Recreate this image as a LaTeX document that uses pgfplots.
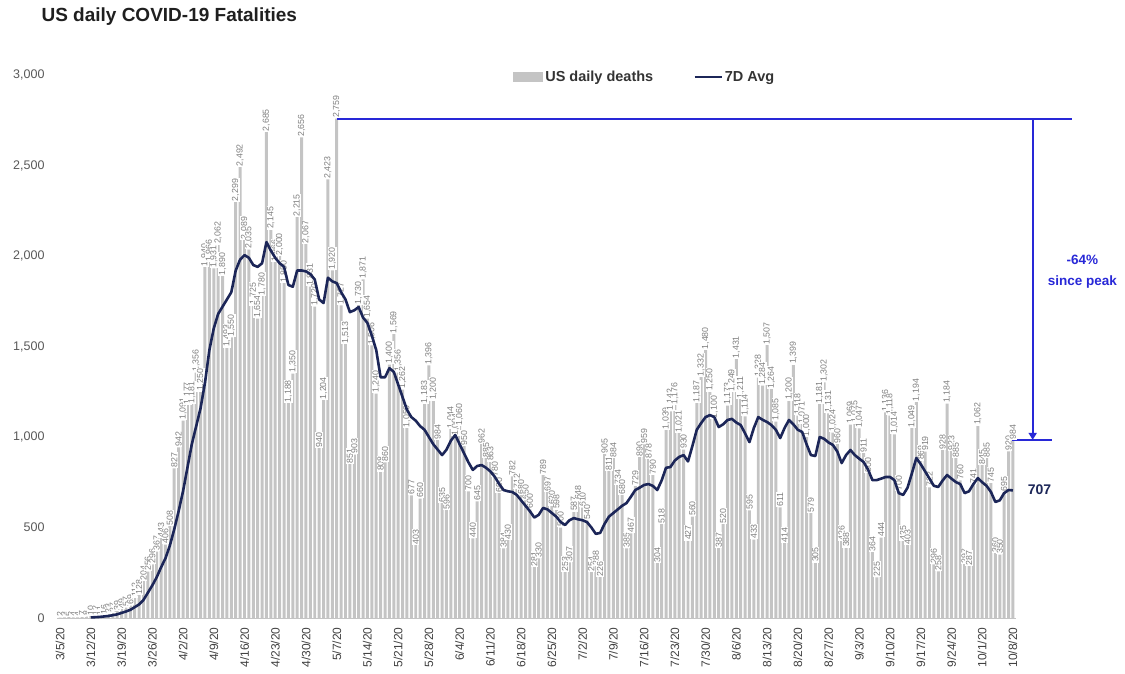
\documentclass[border=0pt]{standalone}
\usepackage{fontspec}
\setmainfont{Liberation Sans}
\usepackage{pgfplots}
\usepackage{pgfplotstable}
\pgfplotsset{compat=1.18}
\usetikzlibrary{arrows.meta}
\definecolor{barcol}{RGB}{196,196,196}
\definecolor{navy}{RGB}{28,38,88}
\definecolor{annblue}{RGB}{40,40,215}
\definecolor{ticktxt}{RGB}{89,89,89}

\pgfplotstableread{
d v
0 2
1 3
2 5
3 4
4 4
5 7
6 8
7 10
8 12
9 11
10 16
11 23
12 27
13 39
14 49
15 57
16 69
17 112
18 128
19 204
20 256
21 296
22 367
23 443
24 406
25 508
26 827
27 942
28 1091
29 1177
30 1181
31 1356
32 1250
33 1940
34 1966
35 1931
36 2062
37 1890
38 1493
39 1550
40 2299
41 2492
42 2089
43 2035
44 1725
45 1654
46 1780
47 2685
48 2145
49 1966
50 2000
51 1850
52 1188
53 1350
54 2215
55 2656
56 2067
57 1831
58 1720
59 940
60 1204
61 2423
62 1920
63 2759
64 1727
65 1513
66 851
67 903
68 1730
69 1871
70 1654
71 1506
72 1240
73 808
74 860
75 1400
76 1569
77 1356
78 1262
79 1050
80 677
81 403
82 660
83 1183
84 1396
85 1200
86 984
87 635
88 596
89 1044
90 1004
91 1060
92 950
93 700
94 440
95 645
96 962
97 885
98 863
99 780
100 690
101 384
102 430
103 782
104 712
105 680
106 650
107 600
108 281
109 330
110 789
111 697
112 620
113 598
114 500
115 253
116 307
117 587
118 648
119 610
120 540
121 254
122 288
123 226
124 905
125 811
126 884
127 734
128 680
129 385
130 467
131 729
132 890
133 959
134 878
135 790
136 304
137 518
138 1039
139 1142
140 1176
141 1021
142 930
143 427
144 560
145 1187
146 1332
147 1480
148 1250
149 1100
150 387
151 520
152 1173
153 1249
154 1431
155 1211
156 1114
157 595
158 433
159 1328
160 1284
161 1507
162 1264
163 1085
164 611
165 414
166 1200
167 1399
168 1118
169 1071
170 1000
171 579
172 305
173 1181
174 1302
175 1131
176 1024
177 960
178 426
179 388
180 1069
181 1075
182 1047
183 911
184 800
185 364
186 225
187 444
188 1136
189 1118
190 1014
191 700
192 425
193 403
194 1049
195 1194
196 869
197 919
198 722
199 296
200 258
201 928
202 1184
203 923
204 885
205 760
206 297
207 287
208 741
209 1062
210 845
211 885
212 745
213 360
214 350
215 695
216 920
217 984
}\deaths

\pgfplotstableread{
d a
7 3
9 6
11 11
13 20
14 28
15 36
16 45
17 60
18 75
19 100
20 140
21 180
22 225
23 280
24 330
25 400
26 490
27 590
28 700
29 830
30 960
31 1060
32 1160
33 1300
34 1480
35 1600
36 1680
37 1720
38 1760
39 1800
40 1920
41 1980
42 2005
43 1990
44 1950
45 1940
46 1960
47 2077
48 2030
49 1990
50 1960
51 1940
52 1840
53 1830
54 1920
55 1920
56 1915
57 1900
58 1870
59 1760
60 1740
61 1880
62 1860
63 1850
64 1800
65 1760
66 1690
67 1700
68 1718
69 1660
70 1630
71 1560
72 1480
73 1330
74 1330
75 1380
76 1360
77 1290
78 1220
79 1150
80 1110
81 1090
82 1060
83 1040
84 1000
85 960
86 930
87 900
88 930
89 980
90 1011
91 960
92 910
93 860
94 818
95 840
96 845
97 830
98 810
99 780
100 740
101 707
102 700
103 696
104 680
105 650
106 620
107 590
108 555
109 570
110 608
111 600
112 580
113 560
114 530
115 514
116 540
117 552
118 545
119 540
120 530
121 500
122 465
123 470
124 520
125 560
126 580
127 600
128 620
129 635
130 670
131 707
132 720
133 735
134 740
135 730
136 707
137 760
138 830
139 834
140 870
141 890
142 900
143 865
144 950
145 1040
146 1077
147 1110
148 1121
149 1110
150 1055
151 1070
152 1094
153 1100
154 1080
155 1066
156 1020
157 972
158 1050
159 1110
160 1095
161 1083
162 1066
163 1040
164 994
165 1050
166 1094
167 1070
168 1040
169 1028
170 960
171 900
172 895
173 1000
174 990
175 970
176 956
177 920
178 856
179 900
180 928
181 900
182 880
183 862
184 820
185 762
186 762
187 770
188 779
189 779
190 762
191 690
192 680
193 720
194 800
195 884
196 850
197 810
198 770
199 730
200 724
201 760
202 790
203 770
204 751
205 740
206 690
207 700
208 740
209 773
210 750
211 730
212 696
213 641
214 650
215 690
216 707
217 705
}\avg

\begin{document}
\begin{tikzpicture}
\path (0,0) rectangle (1125pt,673pt);
\node[anchor=west, font=\fontsize{19}{22}\selectfont\bfseries, text=black!88] at (38pt,656pt) {US daily COVID-19 Fatalities};
\begin{axis}[
  set layers,
  at={(57pt,55pt)}, anchor=south west,
  scale only axis, width=959pt, height=543pt,
  xmin=-0.7, xmax=217.7, ymin=0, ymax=3000,
  clip=false,
  axis lines*=left,
  x axis line style={draw=barcol, line width=1pt},
  y axis line style={draw=none},
  major tick length=0pt,
  ytick={0,500,...,3000},
  xtick={0,7,...,217},
  xticklabels={3/5/20,3/12/20,3/19/20,3/26/20,4/2/20,4/9/20,4/16/20,4/23/20,4/30/20,5/7/20,5/14/20,5/21/20,5/28/20,6/4/20,6/11/20,6/18/20,6/25/20,7/2/20,7/9/20,7/16/20,7/23/20,7/30/20,8/6/20,8/13/20,8/20/20,8/27/20,9/3/20,9/10/20,9/17/20,9/24/20,10/1/20,10/8/20},
  xticklabel style={rotate=90, anchor=east, font=\fontsize{12}{13}\selectfont, text=black!75, xshift=-6pt},
  yticklabel style={anchor=east, font=\fontsize{12.5}{14}\selectfont, text=ticktxt, xshift=-9pt},
  /pgf/number format/.cd, 1000 sep={,}, assume math mode=true,
  /pgfplots/.cd,
  legend style={at={(0.4725,0.9963)}, anchor=west, draw=none, fill=none,
    font=\fontsize{14.5}{16}\selectfont\bfseries, text=black!80,
    /tikz/every even column/.append style={column sep=38pt}},
  legend columns=2,
  legend cell align=left,
]
\addplot[ybar, bar width=0.68, fill=barcol, draw=none,
  nodes near coords,
  every node near coord/.append style={rotate=90, anchor=west, font=\fontsize{8.8}{9}\selectfont, text=gray, fill=white, inner sep=0.6pt},
  legend image code/.code={\fill[barcol] (0pt,-5pt) rectangle (30pt,5pt);}]
  table[x=d, y=v] {\deaths};
\addlegendentry{US daily deaths}
\addplot[on layer=axis foreground, navy, line width=2.6pt, line join=round,
  legend image code/.code={\draw[navy, line width=2.6pt] (0pt,0pt) -- (27pt,0pt);}]
  table[x=d, y=a] {\avg};
\addlegendentry{7D Avg}
\draw[annblue, line width=1.8pt] (axis cs:63,2759) -- (axis cs:230.5,2759);
\draw[annblue, line width=1.8pt, -{Triangle[width=8pt,length=7pt]}] (axis cs:221.5,2759) -- (axis cs:221.5,984);
\draw[annblue, line width=1.8pt] (axis cs:215.3,984) -- (axis cs:226,984);
\node[text=annblue, font=\fontsize{13.5}{21}\selectfont\bfseries, align=center] at (axis cs:232.8,1914) {-64\%\\since peak};
\node[text=navy, font=\fontsize{14}{16}\selectfont\bfseries, anchor=west] at (axis cs:219.6,707) {707};
\end{axis}
\end{tikzpicture}
\end{document}
